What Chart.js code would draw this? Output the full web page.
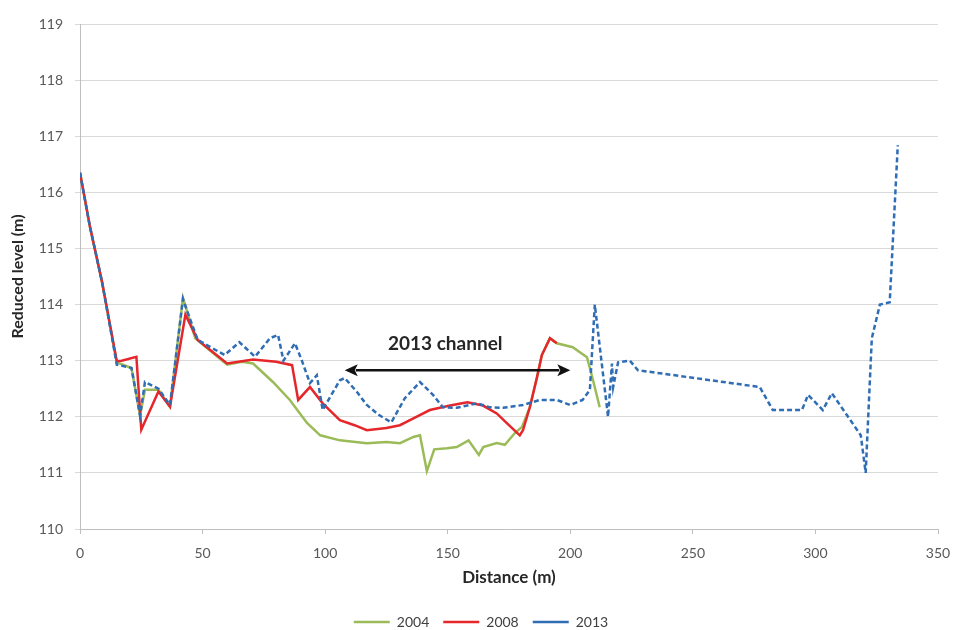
<!DOCTYPE html>
<html>
<head>
<meta charset="utf-8">
<script src="https://cdn.jsdelivr.net/npm/chart.js@4.4.1/dist/chart.umd.min.js"></script>
<style>
  html, body { margin: 0; padding: 0; background: #ffffff; }
  #wrap { width: 957px; height: 630px; position: relative; }
</style>
</head>
<body>
<div id="wrap"><canvas id="c" width="957" height="630"></canvas></div>
<script>
// ---- Data ----
const seriesNames = ["2004", "2008", "2013"];

const dist2004 = [0, 4, 9, 15, 21, 24.5, 26.5, 32, 36.7, 42, 47, 60, 66, 70.6, 78.7, 85.6, 92.6, 98, 106, 117, 125, 130.5, 136, 138.7, 141.5, 144.5, 149.7, 153.7, 158.5, 162.7, 164.5, 170, 173.3, 177.4, 180.3, 183.5, 186.4, 188.4, 191.7, 194.5, 201, 206.8, 209, 212];
const level2004 = [116.35, 115.4, 114.4, 112.97, 112.87, 112.02, 112.48, 112.48, 112.18, 114.12, 113.4, 112.93, 112.98, 112.95, 112.62, 112.3, 111.89, 111.67, 111.58, 111.53, 111.55, 111.53, 111.64, 111.67, 111.03, 111.42, 111.44, 111.46, 111.58, 111.32, 111.46, 111.53, 111.5, 111.71, 111.82, 112.17, 112.7, 113.1, 113.4, 113.31, 113.24, 113.06, 112.7, 112.17];

const dist2008 = [0, 4, 9, 15, 17, 23, 25, 32, 36.7, 43, 48, 60, 70.6, 80, 86.5, 89, 93.8, 99, 106, 112, 117, 125, 130.5, 134.6, 142.7, 151, 158, 164.4, 170, 174, 179.4, 180.7, 183.5, 186.4, 188.4, 191.7, 194.5];
const level2008 = [116.35, 115.4, 114.4, 112.99, 113.0, 113.07, 111.77, 112.45, 112.18, 113.82, 113.37, 112.95, 113.02, 112.98, 112.92, 112.3, 112.53, 112.24, 111.94, 111.85, 111.76, 111.8, 111.85, 111.94, 112.12, 112.2, 112.26, 112.2, 112.06, 111.89, 111.67, 111.76, 112.17, 112.7, 113.1, 113.4, 113.31];

const dist2013 = [0, 4, 9, 15, 21, 24.5, 26.5, 32, 36.7, 42, 43.6, 48, 59, 65, 71.4, 77.5, 80.8, 83, 87.7, 90.5, 93.8, 96.6, 99, 102, 106, 108, 113, 117, 122, 127, 132.5, 138.7, 144, 148, 153.7, 162, 167, 172.5, 180.7, 187.6, 194.5, 200, 205, 208, 210, 215.4, 217, 217.5, 219.5, 224.3, 227.6, 277.3, 282.6, 294.5, 297, 303, 306.7, 318.5, 320.5, 323, 326.3, 330.3, 333.6];
const level2013 = [116.35, 115.4, 114.4, 112.93, 112.87, 112.02, 112.62, 112.5, 112.21, 114.1, 113.9, 113.37, 113.1, 113.33, 113.07, 113.4, 113.46, 113.0, 113.31, 113.0, 112.6, 112.74, 112.12, 112.35, 112.65, 112.69, 112.44, 112.21, 112.03, 111.9, 112.33, 112.62, 112.39, 112.17, 112.16, 112.24, 112.17, 112.16, 112.21, 112.3, 112.3, 112.21, 112.3, 112.48, 114.0, 112.0, 112.95, 112.53, 112.97, 113.0, 112.83, 112.53, 112.12, 112.12, 112.39, 112.12, 112.42, 111.67, 111.0, 113.4, 114.0, 114.04, 116.84];

const xTicks = [0, 50, 100, 150, 200, 250, 300, 350];
const yTicks = [110, 111, 112, 113, 114, 115, 116, 117, 118, 119];

// Annotation: "2013 channel" double arrow
const channelStart = 108;
const channelEnd = 200;
const channelLevel = 112.83;
const channelLabel = "2013 channel";
const channelLabelPos = [149, 113.3];

function pts(xs, ys) { return xs.map((x, i) => ({ x: x, y: ys[i] })); }

const channelPlugin = {
  id: 'channel',
  afterDatasetsDraw(chart) {
    const ctx = chart.ctx, xs = chart.scales.x, ys = chart.scales.y;
    const x1 = xs.getPixelForValue(channelStart), x2 = xs.getPixelForValue(channelEnd);
    const y = ys.getPixelForValue(channelLevel);
    const head = 13, half = 6;
    ctx.save();
    ctx.strokeStyle = '#111111';
    ctx.fillStyle = '#111111';
    ctx.lineWidth = 2.5;
    ctx.beginPath();
    ctx.moveTo(x1 + head - 2, y);
    ctx.lineTo(x2 - head + 2, y);
    ctx.stroke();
    ctx.beginPath();
    ctx.moveTo(x1, y); ctx.lineTo(x1 + head, y - half); ctx.lineTo(x1 + head - 3, y); ctx.lineTo(x1 + head, y + half); ctx.closePath();
    ctx.fill();
    ctx.beginPath();
    ctx.moveTo(x2, y); ctx.lineTo(x2 - head, y - half); ctx.lineTo(x2 - head + 3, y); ctx.lineTo(x2 - head, y + half); ctx.closePath();
    ctx.fill();
    ctx.font = 'bold 19px Lato, "Open Sans", sans-serif';
    ctx.textAlign = 'center';
    ctx.textBaseline = 'middle';
    ctx.fillStyle = '#262626';
    ctx.fillText(channelLabel, xs.getPixelForValue(channelLabelPos[0]), ys.getPixelForValue(channelLabelPos[1]));
    ctx.restore();
  }
};

const FAM = 'Lato, "Open Sans", sans-serif';
const PAD_BOTTOM = -9;

new Chart(document.getElementById('c'), {
  type: 'line',
  data: {
    datasets: [
      { label: seriesNames[0], data: pts(dist2004, level2004), borderColor: '#9BBB59', backgroundColor: '#9BBB59', borderWidth: 2.5, pointRadius: 0, tension: 0, order: 3 },
      { label: seriesNames[1], data: pts(dist2008, level2008), borderColor: '#E5262B', backgroundColor: '#E5262B', borderWidth: 2.5, pointRadius: 0, tension: 0, order: 2 },
      { label: seriesNames[2], data: pts(dist2013, level2013), borderColor: '#2F6DB5', backgroundColor: '#2F6DB5', borderWidth: 2.5, borderDash: [5, 3], pointRadius: 0, tension: 0, order: 1 }
    ]
  },
  options: {
    responsive: false,
    animation: false,
    devicePixelRatio: 1,
    layout: { padding: { left: 24, right: 19, top: 24, bottom: PAD_BOTTOM } },
    plugins: {
      tooltip: { enabled: false },
      legend: {
        position: 'bottom',
        labels: {
          usePointStyle: true,
          pointStyle: 'line',
          pointStyleWidth: 36,
          boxWidth: 36,
          boxHeight: 10,
          padding: 14,
          color: '#404040',
          font: { family: FAM, size: 14 },
          sort: (a, b) => a.datasetIndex - b.datasetIndex
        }
      }
    },
    scales: {
      x: {
        type: 'linear',
        min: 0, max: 350,
        afterBuildTicks(s) { s.ticks = xTicks.map(v => ({ value: v })); },
        afterFit(s) {
          const lh = s.chart.legend ? s.chart.legend.height : 0;
          s.height = 630 - PAD_BOTTOM - 529 - lh;
          s.paddingLeft = 0;
          s.paddingRight = 0;
        },
        ticks: { color: '#595959', font: { family: FAM, size: 14 }, padding: 11, maxRotation: 0 },
        grid: { drawOnChartArea: false, drawTicks: true, tickLength: 5, color: '#BFBFBF' },
        border: { display: true, color: '#BFBFBF', width: 1 },
        title: { display: true, text: 'Distance (m)', color: '#262626', font: { family: FAM, size: 17, weight: 'bold' }, padding: { top: 4, bottom: 13 } }
      },
      y: {
        type: 'linear',
        min: 110, max: 119,
        afterBuildTicks(s) { s.ticks = yTicks.map(v => ({ value: v })); },
        afterFit(s) { s.width = 56; },
        ticks: { color: '#595959', font: { family: FAM, size: 14 }, padding: 12 },
        grid: { color: '#D9D9D9', lineWidth: 1, drawTicks: true, tickLength: 5 },
        border: { display: true, color: '#BFBFBF', width: 1 },
        title: { display: true, text: 'Reduced level (m)', color: '#262626', font: { family: FAM, size: 16, weight: 'bold' }, padding: { top: -15.5, bottom: 0 } }
      }
    }
  },
  plugins: [channelPlugin]
});
</script>
</body>
</html>
